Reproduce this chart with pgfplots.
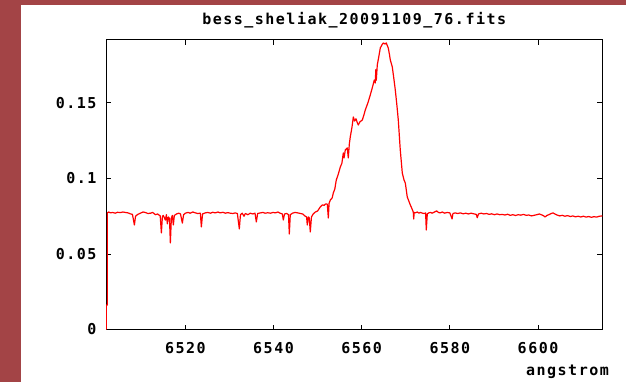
\documentclass[border=0pt]{standalone}
\usepackage{fontspec}
\usepackage{pgfplots}
\pgfplotsset{compat=1.18}
\newfontfamily\gp{DejaVu Sans Mono}[LetterSpace=10]
\definecolor{bgred}{RGB}{163,68,70}
\pgfplotstableread{
x y
6502.09 0
6502.09 0.0162
6502.31 0.0162
6502.31 0.0772
6502.6 0.0778
6503.0 0.0772
6503.5 0.0775
6504.1 0.0770
6504.6 0.0776
6505.3 0.0774
6505.8 0.0778
6506.4 0.0775
6507.0 0.0772
6507.5 0.0766
6508.0 0.0762
6508.44 0.0692
6508.7 0.0750
6509.2 0.0762
6509.8 0.0770
6510.4 0.0778
6510.9 0.0775
6511.5 0.0768
6512.1 0.0770
6512.6 0.0775
6513.2 0.0760
6513.7 0.0765
6514.3 0.0752
6514.56 0.0639
6514.8 0.0750
6515.0 0.0755
6515.46 0.0725
6515.7 0.0760
6515.92 0.0700
6516.15 0.0745
6516.4 0.0735
6516.6 0.0573
6516.83 0.0740
6517.05 0.0755
6517.28 0.0692
6517.5 0.0755
6518.0 0.0765
6518.5 0.0770
6518.9 0.0765
6519.32 0.0705
6519.6 0.0760
6520.0 0.0770
6520.6 0.0775
6521.1 0.0770
6521.7 0.0778
6522.3 0.0772
6522.8 0.0768
6523.4 0.0770
6523.63 0.0679
6523.9 0.0765
6524.5 0.0772
6525.1 0.0775
6525.7 0.0770
6526.2 0.0776
6526.8 0.0772
6527.4 0.0778
6527.9 0.0772
6528.5 0.0776
6529.1 0.0770
6529.6 0.0774
6530.2 0.0770
6530.8 0.0768
6531.3 0.0772
6531.8 0.0768
6532.24 0.0666
6532.5 0.0760
6532.9 0.0770
6533.3 0.0750
6533.6 0.0768
6534.2 0.0760
6534.7 0.0770
6535.3 0.0765
6535.8 0.0770
6536.1 0.0712
6536.4 0.0768
6537.0 0.0772
6537.6 0.0775
6538.1 0.0770
6538.7 0.0773
6539.3 0.0770
6539.9 0.0775
6540.4 0.0772
6541.0 0.0778
6541.5 0.0770
6542.0 0.0765
6542.22 0.0725
6542.5 0.0765
6543.0 0.0768
6543.4 0.0760
6543.58 0.0632
6543.8 0.0760
6544.3 0.0770
6544.9 0.0775
6545.5 0.0772
6546.1 0.0768
6546.6 0.0765
6547.2 0.0750
6547.5 0.0745
6547.66 0.0692
6547.9 0.0745
6548.1 0.0740
6548.34 0.0646
6548.6 0.0745
6549.0 0.0765
6549.5 0.0778
6550.0 0.0785
6550.6 0.0811
6551.1 0.0825
6551.5 0.0822
6551.8 0.0831
6552.2 0.0830
6552.43 0.0738
6552.6 0.0835
6552.9 0.0858
6553.3 0.0871
6553.56 0.0904
6553.9 0.0930
6554.24 0.0990
6554.7 0.1030
6555.15 0.1076
6555.5 0.1100
6555.83 0.1169
6556.0 0.1136
6556.28 0.1189
6556.73 0.1202
6556.96 0.1136
6557.2 0.1230
6557.41 0.1275
6557.8 0.1340
6558.1 0.1407
6558.4 0.1380
6558.7 0.1395
6559.0 0.1370
6559.23 0.1354
6559.6 0.1375
6560.14 0.1387
6560.5 0.1420
6560.82 0.1454
6561.4 0.1500
6561.95 0.1553
6562.4 0.1600
6562.86 0.1652
6563.08 0.1632
6563.2 0.1720
6563.31 0.1650
6563.54 0.1752
6563.9 0.1810
6564.22 0.1864
6564.6 0.1885
6564.9 0.1897
6565.3 0.1890
6565.58 0.1897
6565.8 0.1880
6566.03 0.1864
6566.3 0.1820
6566.49 0.1785
6566.94 0.1738
6567.3 0.1660
6567.62 0.1586
6568.0 0.1480
6568.30 0.1387
6568.75 0.1189
6569.21 0.1036
6569.6 0.0990
6569.89 0.0970
6570.34 0.0877
6570.7 0.0850
6571.02 0.0825
6571.4 0.0800
6571.70 0.0778
6571.8 0.0732
6571.9 0.0775
6572.15 0.0772
6572.6 0.0778
6573.0 0.0770
6573.3 0.0775
6573.8 0.0770
6574.2 0.0768
6574.5 0.0772
6574.65 0.0659
6574.88 0.0765
6575.2 0.0772
6575.6 0.0775
6576.0 0.0770
6576.5 0.0778
6577.0 0.0785
6577.4 0.0775
6577.8 0.0772
6578.3 0.0778
6578.8 0.0770
6579.4 0.0775
6580.0 0.0772
6580.5 0.0732
6580.7 0.0768
6581.2 0.0772
6581.8 0.0768
6582.4 0.0772
6583.0 0.0766
6583.6 0.0770
6584.2 0.0765
6584.8 0.0770
6585.4 0.0766
6586.0 0.0762
6586.2 0.0740
6586.5 0.0765
6587.1 0.0770
6587.7 0.0765
6588.3 0.0768
6588.9 0.0762
6589.5 0.0766
6590.1 0.0760
6590.7 0.0765
6591.3 0.0760
6591.9 0.0762
6592.5 0.0758
6593.1 0.0763
6593.7 0.0756
6594.3 0.0760
6594.9 0.0755
6595.5 0.0760
6596.1 0.0757
6596.7 0.0762
6597.3 0.0756
6597.9 0.0758
6598.5 0.0752
6599.1 0.0756
6599.7 0.0760
6600.3 0.0765
6600.9 0.0758
6601.3 0.0752
6601.6 0.0745
6602.0 0.0755
6602.6 0.0762
6603.0 0.0768
6603.4 0.0772
6603.8 0.0765
6604.3 0.0758
6604.9 0.0752
6605.5 0.0756
6606.1 0.0750
6606.7 0.0754
6607.3 0.0748
6607.9 0.0752
6608.5 0.0746
6609.1 0.0750
6609.7 0.0745
6610.3 0.0750
6610.9 0.0744
6611.5 0.0748
6612.1 0.0743
6612.7 0.0747
6613.3 0.0744
6613.9 0.0750
6614.6 0.0752
}\spectrum
\begin{document}
\begin{tikzpicture}
\fill[bgred] (0,0) rectangle (626pt,-382pt);
\fill[white] (21pt,-5pt) rectangle (626pt,-382pt);
\begin{axis}[
  at={(106pt,-329.5pt)}, anchor=south west,
  scale only axis, width=496.4pt, height=290pt,
  xmin=6502.0, xmax=6614.6, ymin=0, ymax=0.192,
  xtick={6520,6540,6560,6580,6600},
  xticklabels={6520,6540,6560,6580,6600},
  ytick={0,0.05,0.1,0.15},
  yticklabels={0,0.05,0.1,0.15},
  scaled ticks=false,
  tick align=inside, tick pos=both,
  major tick length=5pt,
  axis line style={black, line width=0.9pt},
  every tick/.style={black, line width=0.9pt},
  tick label style={font=\gp\bfseries\fontsize{15}{15}\selectfont, text=black},
  xticklabel style={yshift=-9pt},
  yticklabel style={xshift=-6pt},
  title={bess\_sheliak\_20091109\_76.fits},
  title style={font=\gp\bfseries\fontsize{15}{15}\selectfont, at={(0.5,1)}, anchor=center, yshift=13pt},
  xlabel={angstrom},
  xlabel style={font=\gp\bfseries\fontsize{15}{15}\selectfont, at={(1,0)}, anchor=east, xshift=10pt, yshift=-42.5pt},
]
\addplot[red, line width=1.2pt, line join=round] table[x=x, y=y] {\spectrum};
\end{axis}
\pgfresetboundingbox
\path[use as bounding box] (0,0) rectangle (626pt,-382pt);
\end{tikzpicture}
\end{document}
